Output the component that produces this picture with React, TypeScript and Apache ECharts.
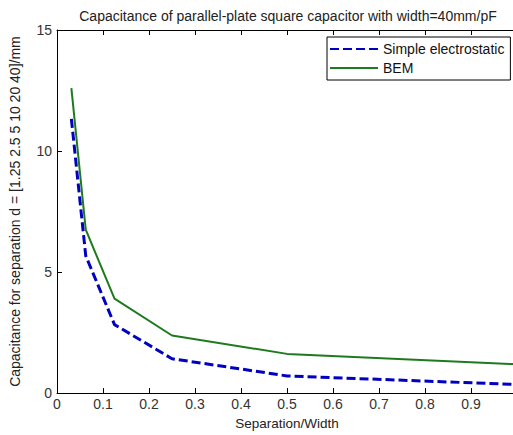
import React, { useEffect, useRef } from "react";
import * as echarts from "echarts";

const separationOverWidth = [0.03125, 0.0625, 0.125, 0.25, 0.5, 1.0];
const simpleElectrostatic = [11.33, 5.67, 2.83, 1.42, 0.71, 0.354];
const bem = [12.6, 6.75, 3.9, 2.38, 1.62, 1.19];
const seriesNames = ["Simple electrostatic", "BEM"];
const titleText = "Capacitance of parallel-plate square capacitor with width=40mm/pF";
const xAxisName = "Separation/Width";
const yAxisName = "Capacitance for separation d = [1.25 2.5 5 10 20 40]/mm";

const FONT = "Liberation Sans, Arial, sans-serif";

export default function App() {
  const ref = useRef<HTMLDivElement>(null);
  useEffect(() => {
    if (!ref.current) return;
    const chart = echarts.init(ref.current, undefined, { renderer: "svg" });
    const axisCommon = {
      axisLine: { show: true, lineStyle: { color: "#000", width: 1 } },
      axisTick: { show: true, inside: true, length: 5, lineStyle: { color: "#000" } },
      splitLine: { show: false },
    };
    chart.setOption({
      animation: false,
      backgroundColor: "#fff",
      textStyle: { fontFamily: FONT },
      title: {
        text: titleText,
        left: 283,
        textAlign: "center",
        top: 4,
        textStyle: { fontFamily: FONT, fontSize: 14, fontWeight: "normal", color: "#222" },
      },
      legend: {
        left: 327,
        top: 37,
        orient: "vertical",
        itemWidth: 48,
        itemHeight: 14,
        itemGap: 5,
        padding: [5, 6, 5, 2],
        borderColor: "#000",
        borderWidth: 1,
        backgroundColor: "#fff",
        itemStyle: { opacity: 0 },
        textStyle: { fontFamily: FONT, fontSize: 14, color: "#111" },
        data: seriesNames,
      },
      grid: { left: 55, top: 30, bottom: 40, right: 13 },
      xAxis: [
        {
          type: "value",
          min: 0,
          max: 1,
          interval: 0.1,
          name: xAxisName,
          nameLocation: "middle",
          nameGap: 22,
          nameTextStyle: { fontFamily: FONT, fontSize: 13.5, color: "#222" },
          ...axisCommon,
          axisLabel: {
            fontFamily: FONT,
            fontSize: 14,
            color: "#333",
            margin: 4,
            formatter: (v: number) => (v === 0 ? "0" : v >= 1 ? "" : v.toFixed(1)),
          },
        },
        {
          type: "value",
          position: "top",
          min: 0,
          max: 1,
          interval: 0.1,
          ...axisCommon,
          axisLabel: { show: false },
        },
      ],
      yAxis: [
        {
          type: "value",
          min: 0,
          max: 15,
          interval: 5,
          name: yAxisName,
          nameLocation: "middle",
          nameGap: 35,
          nameTextStyle: { fontFamily: FONT, fontSize: 14, color: "#222" },
          ...axisCommon,
          axisLabel: { fontFamily: FONT, fontSize: 14, color: "#333", margin: 5 },
        },
      ],
      series: [
        {
          name: seriesNames[0],
          type: "line",
          symbol: "none",
          data: separationOverWidth.map((x, i) => [x, simpleElectrostatic[i]]),
          lineStyle: { color: "#0000c0", width: 3, type: [9, 4] },
          itemStyle: { color: "#0000c0" },
          z: 3,
        },
        {
          name: seriesNames[1],
          type: "line",
          symbol: "none",
          data: separationOverWidth.map((x, i) => [x, bem[i]]),
          lineStyle: { color: "#1e7a1e", width: 2 },
          itemStyle: { color: "#1e7a1e" },
          z: 2,
        },
      ],
    });
    return () => chart.dispose();
  }, []);
  return (
    <div
      style={{ position: "absolute", left: 0, top: 0, width: 513, height: 435, overflow: "hidden" }}
    >
      <div ref={ref} style={{ width: 530, height: 435 }} />
    </div>
  );
}
